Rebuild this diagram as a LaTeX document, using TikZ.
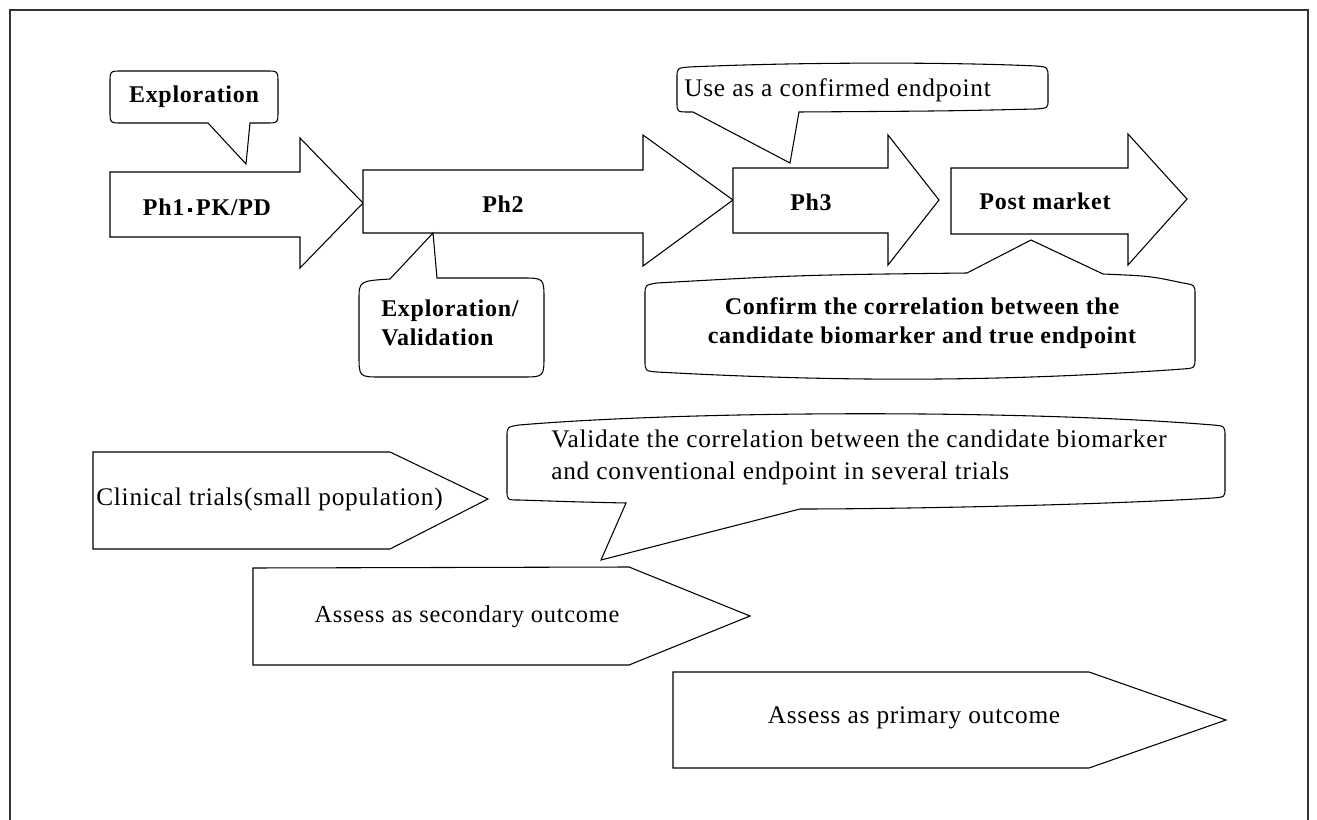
\documentclass[tikz,border=0pt]{standalone}
\usepackage{fontspec}
\setmainfont{Liberation Serif}
\newfontfamily\labelfont[LetterSpace=3]{Liberation Serif}
\tikzset{
  outline/.style={draw=black, line width=0.8pt, line join=miter, fill=white},
  frameline/.style={draw=black!80, line width=0.9pt},
  lbl/.style={inner sep=0pt, font=\labelfont\fontsize{19}{24}\selectfont},
  blbl/.style={inner sep=0pt, font=\labelfont\fontsize{18}{22}\selectfont\bfseries},
}
\newcommand{\phdot}{\,\raisebox{0.28ex}{\rule{0.16em}{0.16em}}\,}
\begin{document}
\begin{tikzpicture}[x=0.75pt,y=-0.75pt]
\useasboundingbox (0,0) rectangle (1317,820);
\fill[white] (0,0) rectangle (1317,820);

% page frame
\draw[frameline] (10,822) -- (10,10) -- (1308,10) -- (1308,822);

% ---- phase arrows (top row) ----
\draw[outline] (110,172) -- (300,172) -- (300,138) -- (363,203) -- (300,268) -- (300,237) -- (110,237) -- cycle;
\draw[outline] (363,170) -- (643,170) -- (643,135) -- (733,200) -- (643,266) -- (643,233) -- (363,233) -- cycle;
\draw[outline] (733,168) -- (888,168) -- (888,135) -- (939,200) -- (888,265) -- (888,233) -- (733,233) -- cycle;
\draw[outline] (951,168) -- (1128,168) -- (1128,134) -- (1187,199) -- (1128,265) -- (1128,234) -- (951,234) -- cycle;

\node[blbl] (ph1) at (207,207) {Ph1\phdot PK/PD};
\node[blbl] (ph2) at (503,204) {Ph2};
\node[blbl] (ph3) at (811,202) {Ph3};
\node[blbl] (post) at (1045,201) {Post market};

% ---- callouts of the top row ----
\draw[outline] (110,83) .. controls (110,71) .. (122,71) -- (266,71)
  .. controls (278,71) .. (278,83) -- (278,111) .. controls (278,123) .. (266,123)
  -- (250,123) -- (246,164) -- (208,123) -- (122,123) .. controls (110,123) .. (110,111) -- cycle;
\node[blbl] (explore) at (194,97) {Exploration};

\draw[outline] (359,300) .. controls (359,281) .. (390,279) -- (433,233) -- (437,278) -- (522,278)
  .. controls (544,278) .. (544,300) -- (544,355) .. controls (544,377) .. (522,377)
  -- (381,377) .. controls (359,377) .. (359,355) -- cycle;
\node[blbl, anchor=west, align=left] (exval) at (381,323) {Exploration/\\Validation};

\draw[outline] (677,78) .. controls (677,68) .. (689,67) .. controls (800,62) and (950,62) .. (1036,66)
  .. controls (1048,67) .. (1048,78) -- (1048,100) .. controls (1048,108) .. (1036,109)
  .. controls (950,111) .. (799,112) -- (790,163) -- (693,112) -- (689,112)
  .. controls (677,112) .. (677,102) -- cycle;
\node[lbl, anchor=west] (useconf) at (684,90) {Use as a confirmed endpoint};

\draw[outline] (645,295) .. controls (645,285) .. (657,283) .. controls (800,275) .. (967,273)
  -- (1031,240) -- (1103,274) .. controls (1150,276) .. (1183,283)
  .. controls (1195,285) .. (1195,295) -- (1195,358) .. controls (1195,368) .. (1183,369)
  .. controls (1000,382) and (840,382) .. (657,372) .. controls (645,371) .. (645,360) -- cycle;
\node[blbl, align=center] (confirm) at (922,323) {Confirm the correlation between the\\candidate biomarker and true endpoint};

% ---- lower part: trial stages ----
\draw[outline] (93,452) -- (390,452) -- (488,499) -- (390,549) -- (93,549) -- cycle;
\node[lbl, anchor=west] (clin) at (96,499) {Clinical trials(small population)};

\draw[outline] (507,437) .. controls (507,427) .. (519,425) .. controls (700,410) and (1030,410) .. (1213,425)
  .. controls (1225,426) .. (1225,437) -- (1225,488) .. controls (1225,497) .. (1213,498)
  .. controls (1100,505) and (900,509) .. (800,509) -- (601,560) -- (626,503)
  .. controls (580,502) .. (519,500) .. controls (507,500) .. (507,490) -- cycle;
\node[lbl, anchor=west, align=left] (valid) at (551,457) {Validate the correlation between the candidate biomarker\\and conventional endpoint in several trials};

\draw[outline] (253,568) -- (629,567) -- (750,616) -- (629,665) -- (253,665) -- cycle;
\node[lbl, font=\labelfont\fontsize{18.3}{22}\selectfont] (second) at (467,617) {Assess as secondary outcome};

\draw[outline] (673,672) -- (1089,672) -- (1226,720) -- (1089,768) -- (673,768) -- cycle;
\node[lbl] (primary) at (914,718) {Assess as primary outcome};
\end{tikzpicture}
\end{document}
